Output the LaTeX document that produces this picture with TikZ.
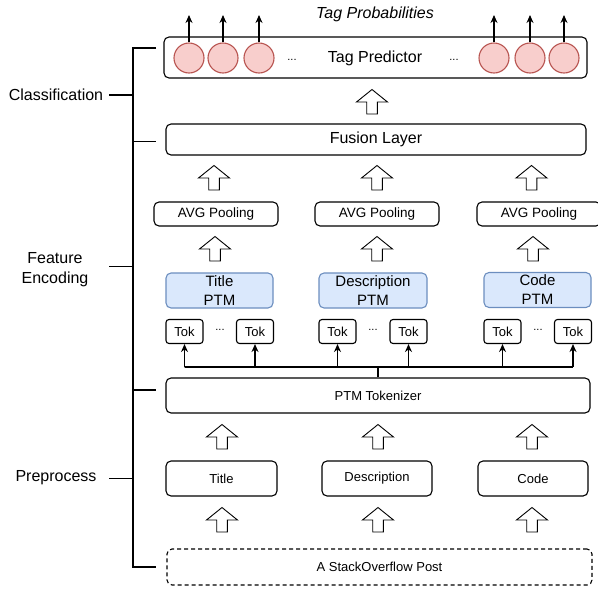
\documentclass[tikz,border=0pt]{standalone}
\usepackage{fontspec}
\setmainfont{Liberation Sans}
\usetikzlibrary{arrows.meta}
\definecolor{ptmfill}{HTML}{DAE8FC}
\definecolor{ptmline}{HTML}{6C8EBF}
\definecolor{tagfill}{HTML}{F8CECC}
\definecolor{tagline}{HTML}{B85450}
\begin{document}
\begin{tikzpicture}[x=1pt,y=-1pt,>={Stealth[length=8pt,width=7pt]},line width=1.1pt,
box/.style={draw,rounded corners=5pt,inner sep=0pt,font=\fontsize{13}{15}\selectfont},
ptm/.style={box,fill=ptmfill,draw=ptmline,align=center,font=\fontsize{15}{19}\selectfont,minimum width=107pt,minimum height=35pt},
tok/.style={box,rounded corners=3pt,minimum width=37pt,minimum height=24pt},
tag/.style={circle,draw=tagline,fill=tagfill,minimum size=30pt,inner sep=0pt},
dots/.style={font=\fontsize{11}{13}\selectfont},
lbl/.style={font=\fontsize{16}{20}\selectfont,align=center},
blockup/.pic={\draw[fill=white,line width=0.9pt](-5.3,12)--(-5.3,0)--(-15.5,0)--(0,-12.5)--(15.5,0)--(5.3,0)--(5.3,12)--cycle;}]
\useasboundingbox (0,0) rectangle (598,590);
\node[box,minimum width=423pt,minimum height=41pt](pred) at (375.5,57.5){};
\node[lbl](predtxt) at (375,58){Tag Predictor};
\node[lbl,font=\fontsize{16}{20}\selectfont\itshape](prob) at (375,14){Tag Probabilities};
\foreach \x/\n in {189/1,223/2,259/3,494/4,530/5,564/6}{
\node[tag](c\n) at (\x,58){};
\coordinate(o\n) at (\x,15);
\draw[->](c\n.north)--(o\n);
}
\node[dots](pd1) at (292,60){...};
\node[dots](pd2) at (454,60){...};
\node[box,minimum width=420pt,minimum height=31pt,font=\fontsize{16}{20}\selectfont](fusion) at (376,139.5){Fusion Layer};
\node[box,minimum width=124pt,minimum height=24pt,font=\fontsize{13.5}{16}\selectfont](avgA) at (216,214){AVG Pooling};
\node[box,minimum width=124pt,minimum height=24pt,font=\fontsize{13.5}{16}\selectfont](avgB) at (377,214){AVG Pooling};
\node[box,minimum width=124pt,minimum height=24pt,font=\fontsize{13.5}{16}\selectfont](avgC) at (539,214){AVG Pooling};
\node[ptm](ptmA) at (219.5,290.5){Title\\PTM};
\node[ptm,minimum width=108pt](ptmB) at (373,290.5){Description\\PTM};
\node[ptm](ptmC) at (537.5,290){Code\\PTM};
\foreach \x/\n in {184.5/1,255/2,337.5/3,408.5/4,502.5/5,573/6}{
\node[tok](t\n) at (\x,331.5){Tok};
}
\node[dots](td1) at (220,330){...};
\node[dots](td2) at (373,330){...};
\node[dots](td3) at (538,330){...};
\node[box,minimum width=424pt,minimum height=35pt](tokz) at (378,395.5){PTM Tokenizer};
\coordinate(bus) at (378,367);
\draw(tokz.north)--(bus);
\draw(bus)--(t1.south|-bus)--(t6.south|-bus);
\foreach \n in {1,...,6}{
\draw[->](t\n.south|-bus)--(t\n.south);
}
\node[box,minimum width=111pt,minimum height=35pt](title) at (221.5,478.5){Title};
\node[box,minimum width=110pt,minimum height=35pt](desc) at (377,478.5){Description};
\node[box,minimum width=110pt,minimum height=35pt](code) at (533,478.5){Code};
\node[box,dash pattern=on 4pt off 3pt,minimum width=425pt,minimum height=36pt](post) at (379.5,567){A StackOverflow Post};
\foreach \x/\y in {372/102,214/178,377/178,531.5/178,215/249,377/249,533/249,222/437,378/437,532/437,222/520,378/520,532/520}{
\pic at (\x,\y){blockup};
}
\node[lbl](cls) at (56,95){Classification};
\node[lbl,font=\fontsize{16}{20}\selectfont](enc) at (55,270){Feature\\Encoding};
\node[lbl](pre) at (56,478){Preprocess};
\coordinate(brtop) at (156,48);
\coordinate(brbot) at (156,567);
\draw(brtop)-|(133,567)--(brbot);
\draw(133,141.7)--(156,141.7);
\draw(133,390)--(156,390);
\draw(109,95)--(133,95);
\draw(109,266.7)--(133,266.7);
\draw(109,478.7)--(133,478.7);
\end{tikzpicture}
\end{document}
